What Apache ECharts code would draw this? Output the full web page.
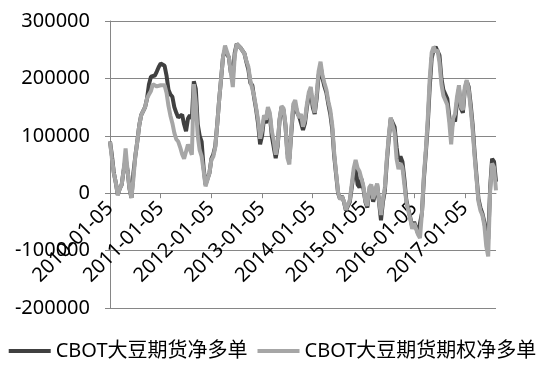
<!DOCTYPE html>
<html>
<head>
<meta charset="utf-8">
<script src="https://cdn.jsdelivr.net/npm/echarts@6/dist/echarts.min.js"></script>
<style>html,body{margin:0;padding:0;background:#fff;}#c{width:545px;height:372px;}</style>
</head>
<body>
<div id="c"></div>
<script>
// Tick labels shown on the x axis (one per year, every 26 bi-weekly points)
var tickLabels = ['2010-01-05','2011-01-05','2012-01-05','2013-01-05','2014-01-05','2015-01-05','2016-01-05','2017-01-05'];
var pointsPerYear = 26;
var startDate = '2010-01-05';

var seriesNames = ['CBOT大豆期货净多单', 'CBOT大豆期货期权净多单'];

// CBOT soybean futures net long (thousand contracts, bi-weekly samples)
var futuresNetLong = [
 90,65,35,18,-3,8,15,40,60,40, 8,-8,35,65,90,118,136,138,150,165,
 190,203,203,205,212,220,226,229,222,205, 180,172,168,150,140,132,133,137,120,108,
 130,136,130,195,182,120,100,90,45,15, 12,35,60,68,82,120,163,200,238,250,
 252,236,210,205,245,260,258,253,250,243, 228,215,192,188,165,145,120,85,100,130,
 122,145,135,100,80,61,82,128,150,145, 118,70,60,105,150,155,140,134,132,110,
 122,150,170,178,150,138,165,205,222,200, 186,175,155,138,112,65,32,0,-10,-5,
 -15,-30,-32,-15,10,35,45,15,10,25, 8,-15,-25,5,12,-15,-2,15,-15,-47,
 -15,5,55,95,130,132,115,80,55,64, 55,25,-12,-28,-42,-58,-50,-48,-70,-72,
 -35,25,70,120,185,235,250,255,252,240, 200,180,183,165,135,105,130,125,160,182,
 148,140,180,195,185,155,120,72,30,-10, -25,-35,-50,-72,-80,10,60,55,20
];

// CBOT soybean futures + options net long (thousand contracts, bi-weekly samples)
var optionsNetLong = [
 90,60,35,18,-3,8,15,40,78,40, 8,-8,25,65,90,118,136,138,150,165,
 172,178,190,192,186,183,188,188,188,175, 152,135,122,105,94,90,80,68,60,58,
 85,85,67,190,158,100,75,64,40,12, 10,35,58,64,80,120,163,200,238,257,
 254,236,210,185,240,260,258,253,250,243, 230,220,196,194,168,148,127,95,110,136,
 128,150,140,108,92,67,85,130,152,148, 120,62,50,110,155,162,143,131,138,116,
 128,155,176,185,158,140,172,212,229,205, 192,180,160,145,119,70,35,2,-11,-6,
 -14,-29,-30,-12,15,43,58,44,38,40, 12,-14,-22,10,15,-10,3,17,-13,-38,
 -10,10,60,100,132,130,105,60,42,52, 45,15,-15,-30,-44,-62,-52,-50,-72,-78,
 -35,30,75,130,200,245,255,246,250,228, 190,170,172,154,125,85,130,138,168,188,
 150,145,185,197,180,148,112,65,25,-14, -30,-38,-55,-92,-110,5,52,45,5
];

var categories = [];
(function(){
  var d0 = new Date(startDate + 'T00:00:00Z');
  for (var i = 0; i < futuresNetLong.length; i++) {
    var d = new Date(d0.getTime() + i * 14 * 86400000);
    categories.push(d.toISOString().slice(0,10));
  }
})();

function toUnits(arr){ return arr.map(function(v){ return v * 1000; }); }

var font = '"Noto Sans", "Noto Sans CJK SC", sans-serif';
var gridTop = 21, gridBottom = 64, chartH = 372;
var yMin = -200000, yMax = 300000;
var plotH = chartH - gridTop - gridBottom;
var zeroOffset = -plotH * (0 - yMin) / (yMax - yMin);

var chart = echarts.init(document.getElementById('c'), null, {renderer:'canvas'});
chart.setOption({
  animation: false,
  backgroundColor: '#fff',
  textStyle: {fontFamily: font},
  grid: {left: 110, right: 49, top: gridTop, bottom: gridBottom, containLabel: false, outerBoundsMode: 'none'},
  legend: {
    bottom: 6, left: 'center',
    itemWidth: 42, itemHeight: 4, itemGap: 10, icon: 'rect',
    textStyle: {fontSize: 20, color: '#000', fontFamily: font},
    data: seriesNames
  },
  xAxis: {
    type: 'category',
    data: categories,
    boundaryGap: false,
    offset: zeroOffset,
    axisLine: {onZero: false, lineStyle: {color: '#868686', width: 1}},
    axisTick: {show: true, interval: pointsPerYear - 1, length: 5, lineStyle: {color: '#868686'}},
    axisLabel: {
      interval: pointsPerYear - 1, rotate: 45, fontSize: 20, color: '#000', margin: 12,
      formatter: function(v, idx){ return idx % pointsPerYear === 0 ? tickLabels[idx / pointsPerYear] : ''; }
    },
    splitLine: {show: false}
  },
  yAxis: {
    type: 'value',
    min: yMin, max: yMax, interval: 100000,
    axisLine: {show: true, lineStyle: {color: '#868686', width: 1}},
    axisTick: {show: true, length: 5, lineStyle: {color: '#868686'}},
    axisLabel: {fontSize: 20, color: '#000', margin: 20, formatter: function(v){ return String(v); }},
    splitLine: {show: true, lineStyle: {color: '#868686', width: 1}}
  },
  series: [
    {name: seriesNames[0], type: 'line', data: toUnits(futuresNetLong), showSymbol: false, symbol: 'none',
     lineStyle: {color: '#404040', width: 4}, itemStyle: {color: '#404040'}, z: 2},
    {name: seriesNames[1], type: 'line', data: toUnits(optionsNetLong), showSymbol: false, symbol: 'none',
     lineStyle: {color: '#a6a6a6', width: 4}, itemStyle: {color: '#a6a6a6'}, z: 3}
  ]
});
</script>
</body>
</html>
